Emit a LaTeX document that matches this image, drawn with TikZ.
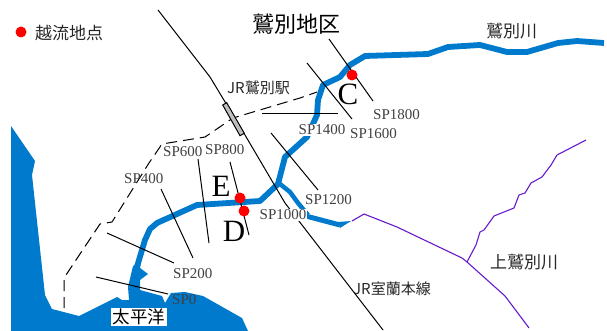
\documentclass[tikz,border=0pt]{standalone}
\usepackage{fontspec}
\setmainfont{Liberation Serif}
\newfontfamily\jpf{Noto Sans CJK JP}
\definecolor{riverblue}{RGB}{0,122,204}
\definecolor{tribpurple}{RGB}{102,26,204}
\definecolor{splabel}{gray}{0.25}
\tikzset{
 river/.style={draw=riverblue,line width=5.8pt,line join=round},
 trib/.style={draw=tribpurple,line width=1.1pt,line join=round},
 rail/.style={draw=black,line width=1pt},
 section/.style={draw=black,line width=1pt},
 oldriver/.style={draw=black,line width=1pt,dash pattern=on 11pt off 6pt},
 splab/.style={font=\fontsize{15}{15}\selectfont,text=splabel,inner sep=0pt},
 bigl/.style={font=\fontsize{31}{31}\selectfont,inner sep=0pt},
 jp/.style={font=\jpf\fontsize{17}{17}\selectfont,text=black!85,inner sep=0pt},
 jprail/.style={font=\jpf\fontsize{15}{15}\selectfont,text=black!85,inner sep=0pt},
 overflow/.style={fill=red,circle,inner sep=0pt,minimum size=11pt}
}
\begin{document}
\begin{tikzpicture}[x=1pt,y=-1pt]
\useasboundingbox (0,0) rectangle (607,331);
% sea
\fill[riverblue] (11,126) -- (35,161) -- (32,175) -- (45,295) -- (52,309) -- (79,316) -- (117,297) -- (122,300) -- (129,300) -- (128,287) -- (140,290) -- (162,296) -- (165,303) -- (171,293) -- (185,292) -- (203,296) -- (242,318) -- (248,331) -- (11,331) -- cycle;
% estuary
\fill[riverblue] (128,287) -- (133,266) -- (141,262) -- (140,268) -- (148,274) -- (140,280) -- (140,291) -- cycle;
% rivers
\draw[river] (136,270) -- (145,240) -- (150,229) -- (157,223) -- (197,205) -- (260,201) -- (278,184) -- (285,157) -- (307,137) -- (317,115) -- (318,100) -- (323,85) -- (340,77) -- (350,65) -- (365,56) -- (428,54) -- (448,47) -- (480,45) -- (507,52) -- (527,52) -- (558,43) -- (577,41) -- (604,43);
\draw[river,line width=4.5pt] (280,184) -- (290,192) -- (298,203) -- (308,215);
\draw[river,line width=5pt] (302,215) -- (340,225);
\fill[riverblue] (340,228) -- (351,221) -- (338,222) -- cycle;
% tributaries
\draw[trib] (352,221) -- (364,214) -- (397,227) -- (462,258) -- (467,262) -- (505,296) -- (529,328);
\draw[trib] (467,262) -- (476,245) -- (480,232) -- (484,230) -- (494,216) -- (514,208) -- (519,195) -- (525,193) -- (531,183) -- (542,177) -- (551,165) -- (557,155) -- (586,140);
% old river (dashed)
\draw[oldriver] (64,308) -- (64,278) -- (100,224) -- (112,222) -- (149,163) -- (162,144) -- (205,137) -- (233,118) -- (300,98) -- (317,92);
% railway
\draw[rail] (158,10) -- (210,77) -- (245,135) -- (285,203) -- (302,225) -- (383,330);
\filldraw[draw=black,fill=black!25,line width=1pt] (222.7,105) -- (226.7,102.7) -- (244.3,133.3) -- (240,135.7) -- cycle;
% sections
\draw[section] (96,277) -- (168,294);
\draw[section] (107,233) -- (174,263);
\draw[section] (161,189) -- (193,258);
\draw[section] (198,159) -- (209,243);
\draw[section] (230,162) -- (249,235);
\draw[section] (271,133) -- (318,190);
\draw[section] (262,114) -- (338,114);
\draw[section] (307,63) -- (352,119);
\draw[section] (329,39) -- (373,101);
% overflow points
\node[overflow] (legdot) at (21,32) {};
\node[overflow] (ptc) at (352,75) {};
\node[overflow] (pte) at (240,198) {};
\node[overflow] (ptd) at (244,211) {};
% labels
\node[jp,anchor=west] (leg) at (35,33) {越流地点};
\node[jp,font=\jpf\fontsize{22}{22}\selectfont,text=black,anchor=west] (area) at (252,24) {鷲別地区};
\node[jprail,anchor=west] (sta) at (227,88) {JR鷲別駅};
\node[jp,anchor=west] (kawa) at (486,31) {鷲別川};
\node[jp,anchor=west] (kami) at (490,262) {上鷲別川};
\node[jprail,anchor=west] (line) at (353,289) {JR室蘭本線};
\node[jp,font=\jpf\fontsize{17.5}{18}\selectfont,text=black,fill=white,inner xsep=1.5pt,inner ysep=1pt,anchor=west] (sea) at (111,317) {太平洋};
\node[splab,anchor=west] (s0) at (172,300) {SP0};
\node[splab,anchor=west] (s200) at (173,274) {SP200};
\node[splab,anchor=west] (s400) at (124,179) {SP400};
\node[splab,anchor=west] (s600) at (163,152) {SP600};
\node[splab,anchor=west] (s800) at (205,150) {SP800};
\node[splab,anchor=west,fill=white,inner ysep=1pt,inner xsep=0.5pt] (s1000) at (259,215) {SP1000};
\node[splab,anchor=west] (s1200) at (305,200) {SP1200};
\node[splab,anchor=west,fill=white,inner ysep=1pt,inner xsep=0.5pt] (s1400) at (298,130) {SP1400};
\node[splab,anchor=west] (s1600) at (350,134) {SP1600};
\node[splab,anchor=west] (s1800) at (373,115) {SP1800};
\node[bigl] (lc) at (348,94) {C};
\node[bigl] (le) at (221,186) {E};
\node[bigl] (ld) at (234,231) {D};
\end{tikzpicture}
\end{document}
